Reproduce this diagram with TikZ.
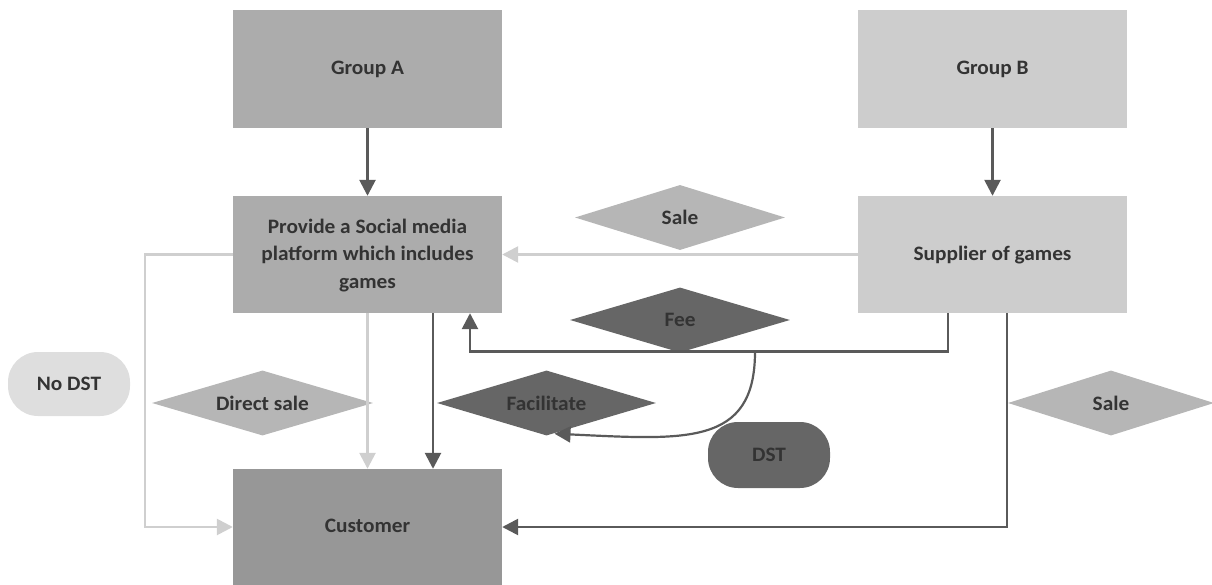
\documentclass[tikz,border=0pt]{standalone}
\usepackage{fontspec}
\setmainfont{Carlito}[FakeStretch=1.04]
\usetikzlibrary{arrows.meta,shapes.geometric,calc}
\definecolor{cA}{HTML}{ACACAC}
\definecolor{cB}{HTML}{CDCDCD}
\definecolor{cCust}{HTML}{979797}
\definecolor{cLtD}{HTML}{B6B6B6}
\definecolor{cDkD}{HTML}{666666}
\definecolor{cNo}{HTML}{DEDEDE}
\definecolor{cLineDk}{HTML}{5A5A5A}
\definecolor{cLineLt}{HTML}{CFCFCF}
\definecolor{cTxt}{HTML}{333333}
\begin{document}
\begin{tikzpicture}[x=1pt,y=-1pt,
  every node/.style={font=\fontsize{20.5}{27.5}\selectfont\bfseries, text=cTxt},
  box/.style={rectangle, inner sep=0pt, minimum width=269pt, align=center, text depth=2pt},
  dia/.style={diamond, aspect=3.2, inner sep=0pt, minimum width=212pt, minimum height=65pt},
  pill/.style={rectangle, rounded corners=30pt, minimum width=122pt, minimum height=64pt, inner sep=0pt},
  dk/.style={draw=cLineDk, line width=2.6pt, -{Triangle[width=16pt,length=16pt]}},
  lt/.style={draw=cLineLt, line width=2.6pt, -{Triangle[width=16pt,length=16pt]}}
]
\useasboundingbox (0,0) rectangle (1212,585);
% boxes
\node[box, fill=cA, minimum height=118pt] (ga) at (367.5,69) {Group A};
\node[box, fill=cB, minimum height=118pt] (gb) at (992.5,69) {Group B};
\node[box, fill=cA, minimum height=117pt] (prov) at (367.5,254.5) {Provide a Social media\\platform which includes\\games};
\node[box, fill=cB, minimum height=117pt] (sup) at (992.5,254.5) {Supplier of games};
\node[box, fill=cCust, minimum height=116pt] (cust) at (367.5,527) {Customer};
% diamonds
\node[dia, fill=cLtD, minimum width=210pt] (sale1) at (680,217.5) {Sale};
\node[dia, fill=cDkD, minimum width=220pt] (fee) at (680,320) {Fee};
\node[dia, fill=cLtD, minimum width=221pt] (dsale) at (262.5,403) {Direct sale};
\node[dia, fill=cDkD, minimum width=219pt] (fac) at (546.5,403) {Facilitate};
\node[dia, fill=cLtD, minimum width=206pt] (sale2) at (1111,403) {Sale};
% pills
\node[pill, fill=cNo] (nodst) at (69,384) {No DST};
\node[pill, fill=cDkD, minimum height=66pt] (dst) at (769,455) {DST};
% connectors
\draw[dk] (ga) -- (prov);
\draw[dk] (gb) -- (sup);
\draw[lt] (sup.west) -- (prov.east);
\draw[lt] (prov.west) -- ++(-88,0) |- (cust.west);
\draw[lt] (prov.south) -- (cust.north);
\draw[dk] ($(prov.south)+(65.5,0)$) -- ($(cust.north)+(65.5,0)$);
\draw[dk] ($(sup.south)+(-44.5,0)$) -- ++(0,38.5) coordinate (feecorner) -| ($(prov.south)+(102.5,0)$);
\coordinate (curvestart) at ($(feecorner)+(-193,0)$);
\draw[dk] ($(sup.south)+(14.5,0)$) |- (cust.east);
\draw[dk, line width=2.2pt] (curvestart) .. controls ($(curvestart)+(0,95)$) and ($(curvestart)+(-70,88)$) .. ($(fac.south)+(8,-2)$);
\end{tikzpicture}
\end{document}
